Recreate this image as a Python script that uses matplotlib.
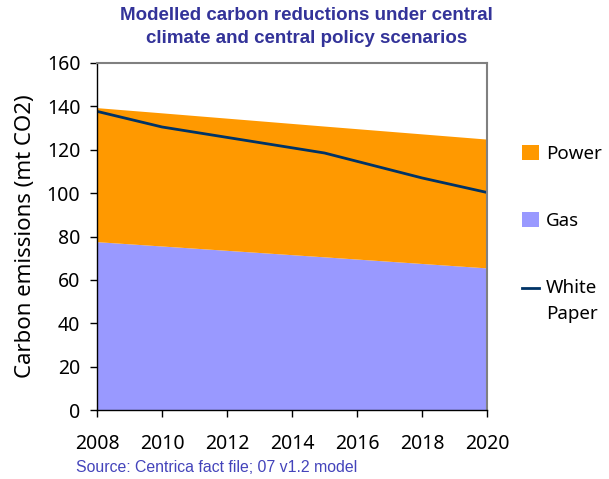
import matplotlib
matplotlib.use('Agg')
import matplotlib.pyplot as plt
from matplotlib.legend_handler import HandlerLine2D

# data
years = [2008, 2010, 2015, 2020]
gas = [77.4, 75.4, 70.4, 65.3]
total = [139.2, 136.8, 130.7, 124.7]
power = [t - g for t, g in zip(total, gas)]

wp_years = [2008, 2010, 2015, 2018, 2020]
white_paper = [137.7, 130.5, 118.5, 107.0, 100.3]

x_ticks = [2008, 2010, 2012, 2014, 2016, 2018, 2020]
y_ticks = [0, 20, 40, 60, 80, 100, 120, 140, 160]

plt.rcParams['font.family'] = ['Noto Sans', 'DejaVu Sans']


class HandlerLineTop(HandlerLine2D):
  # linea alineada con la primera linea del texto
  def create_artists(self, legend, orig_handle, xdescent, ydescent, width, height, fontsize, trans):
    return super().create_artists(legend, orig_handle, xdescent, ydescent - 1.35 * fontsize,
                                  width, height, fontsize, trans)


fig = plt.figure(figsize=(6.09, 4.79), dpi=100)
ax = fig.add_axes([97/609, 69/479, 390/609, 347/479])

# areas apiladas
ax.stackplot(years, gas, power, colors=['#9999FF', '#FF9900'], labels=['Gas', 'Power'], linewidth=0)
wp_line, = ax.plot(wp_years, white_paper, color='#003366', linewidth=2, label='White\nPaper')

ax.set_xlim(2008, 2020)
ax.set_ylim(0, 160)
ax.set_xticks(x_ticks)
ax.set_yticks(y_ticks)
ax.tick_params(axis='x', direction='out', length=5, width=1, pad=12, labelsize=14)
ax.tick_params(axis='y', direction='out', length=5, width=1, pad=7, labelsize=14)

for s in ['top', 'right']:
  ax.spines[s].set_color('#808080')
  ax.spines[s].set_linewidth(1.5)
for s in ['left', 'bottom']:
  ax.spines[s].set_color('black')
  ax.spines[s].set_linewidth(1)

ax.set_ylabel('Carbon emissions (mt CO2)', fontsize=16, labelpad=8)

# leyenda en orden Power, Gas, White Paper
h, l = ax.get_legend_handles_labels()
order = [1, 0, 2]
leg = fig.legend([h[i] for i in order], [l[i] for i in order], loc='upper left',
                 bbox_to_anchor=(505/609, 1 - 128/479), frameon=False, fontsize=13.5,
                 handlelength=0.9, handleheight=0.9, handletextpad=0.4, labelspacing=2.6,
                 borderaxespad=0.5, borderpad=0.4,
                 handler_map={wp_line: HandlerLineTop()})
for t in leg.get_texts():
  t.set_linespacing(1.55)

fig.text(0.503, 1 - 27/479, 'Modelled carbon reductions under central\nclimate and central policy scenarios',
         ha='center', va='center', fontsize=13.5, fontweight='bold', color='#333399',
         family='Liberation Sans', linespacing=1.45)
fig.text(76/609, 1 - 467/479, 'Source: Centrica fact file; 07 v1.2 model', ha='left', va='center',
         fontsize=11.4, color='#4444BB', family='Liberation Sans')

fig.savefig('out.png', dpi=100)
